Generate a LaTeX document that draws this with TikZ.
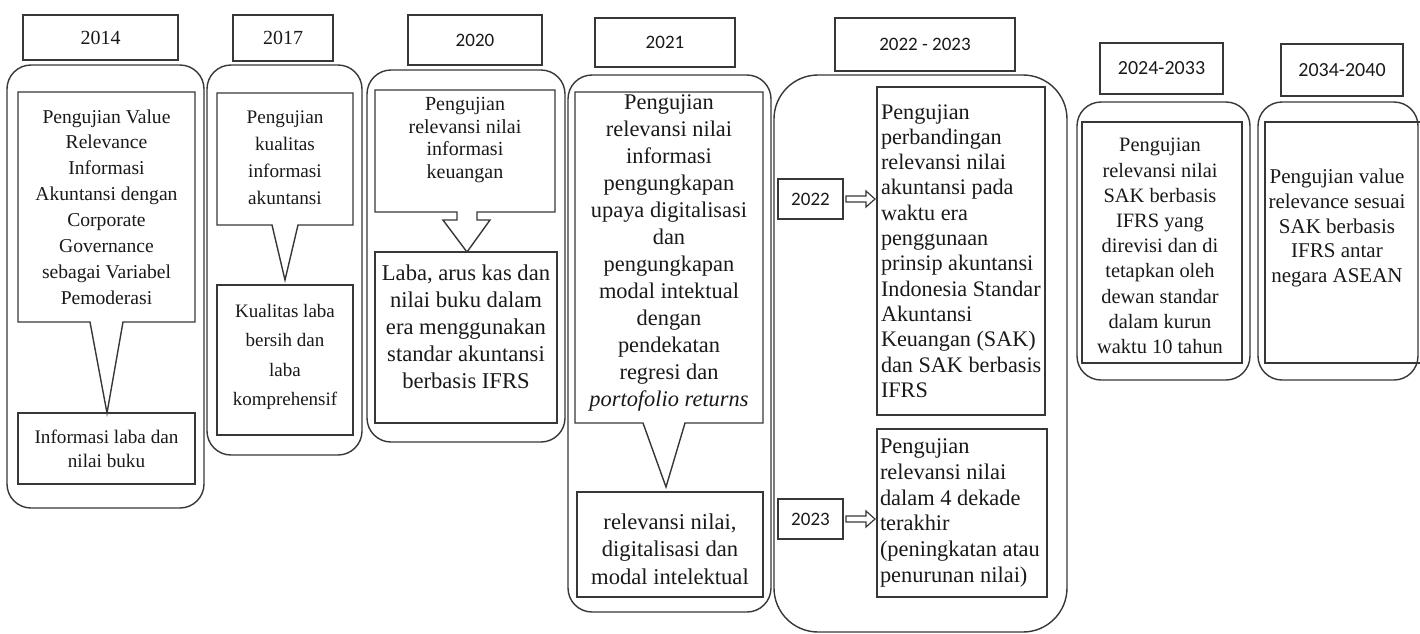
\documentclass[tikz,border=0pt]{standalone}
\usepackage{fontspec}
\setmainfont{Liberation Serif}
\newfontfamily\yfont{Carlito}
\usetikzlibrary{calc}
\definecolor{ln}{RGB}{55,55,55}
\definecolor{tx}{RGB}{25,25,25}
\newcommand\rbox[7]{\node[#1, minimum width={(#4-#2)*0.5pt}, minimum height={(#5-#3)*0.5pt}] (#6) at ({(#2+#4)/2},{(#3+#5)/2}) {#7};}
\newcommand\fs[2]{\fontsize{#1}{#2}\selectfont}
\begin{document}
\begin{tikzpicture}[x=0.5pt,y=-0.5pt,
  every node/.style={inner sep=0pt, outer sep=0pt, text=tx},
  shp/.style={draw=ln, line width=0.7pt, line join=miter},
  cont/.style={draw=ln, line width=0.7pt, rounded corners=12pt},
  bigcont/.style={draw=ln, line width=0.7pt, rounded corners=22pt},
  pbox/.style={draw=ln, line width=0.7pt, rectangle, align=center},
  ybox/.style={pbox, font=\yfont\fs{9.5}{11}},
  sbox/.style={pbox, font=\fs{10}{12}},
  txt/.style={align=center},
  barrow/.style={draw=ln, line width=0.6pt, line join=miter}]
\useasboundingbox (0,0) rectangle (1420,633);
\clip (0,0) rectangle (1420,633);

% ---------- 2014 ----------
\draw[cont] (7,65) rectangle (204,508);
\rbox{sbox}{23}{15}{178}{60}{y14}{2014}
\draw[shp] (18,92) -- (195,92) -- (195,322) -- (123,322) -- (107,413) -- (90,322) -- (18,322) -- cycle;
\node[txt, font=\fs{9.8}{12.95}] (c14) at (106.5,207) {Pengujian Value\\Relevance\\Informasi\\Akuntansi dengan\\Corporate\\Governance\\sebagai Variabel\\Pemoderasi};
\rbox{pbox, font=\fs{9.6}{12}}{18}{413}{195}{484}{b14}{Informasi laba dan\\nilai buku}

% ---------- 2017 ----------
\draw[cont] (207,65) rectangle (362,455);
\rbox{sbox}{233}{15}{333}{61}{y17}{2017}
\draw[shp] (217,93) -- (353,93) -- (353,225) -- (298,225) -- (285,280) -- (272,225) -- (217,225) -- cycle;
\node[txt, font=\fs{9.6}{13.5}] (c17) at (285,158) {Pengujian\\kualitas\\informasi\\akuntansi};
\rbox{pbox}{217}{285}{353}{435}{b17}{}
\node[txt, font=\fs{9.5}{14.8}] (t17) at (285,357) {Kualitas laba\\bersih dan\\laba\\komprehensif};

% ---------- 2020 ----------
\draw[cont] (367,70) rectangle (565,442);
\rbox{ybox}{408}{15}{542}{65}{y20}{2020}
\draw[shp] (375,90) -- (555,90) -- (555,212) -- (477,212) -- (477,220) -- (490,220) -- (467,252) -- (443,220) -- (457,220) -- (457,212) -- (375,212) -- cycle;
\node[txt, font=\fs{10}{11.4}] (c20) at (465,140) {Pengujian\\relevansi nilai\\informasi\\keuangan};
\rbox{pbox}{375}{252}{557}{423}{b20}{}
\node[txt, font=\fs{11.3}{13.5}] (t20) at (466,327) {Laba, arus kas dan\\nilai buku dalam\\era menggunakan\\standar akuntansi\\berbasis IFRS};

% ---------- 2021 ----------
\draw[cont] (568,75) rectangle (771,612);
\rbox{ybox}{595}{18}{735}{67}{y21}{2021}
\draw[shp] (575,92) -- (763,92) -- (763,423) -- (685,423) -- (666,487) -- (643,423) -- (575,423) -- cycle;
\node[txt, font=\fs{11.2}{13.5}] (c21) at (669,253) {Pengujian\\relevansi nilai\\informasi\\pengungkapan\\upaya digitalisasi\\dan\\pengungkapan\\modal intektual\\dengan\\pendekatan\\regresi dan\\\textit{portofolio returns}};
\rbox{pbox}{577}{492}{763}{597}{b21}{}
\node[txt, font=\fs{11.3}{13.75}] (t21) at (670,549) {relevansi nilai,\\digitalisasi dan\\modal intelektual};

% ---------- 2022 - 2023 ----------
\draw[bigcont] (774,75) rectangle (1067,632);
\rbox{ybox}{835}{18}{1015}{71}{y2223}{2022 - 2023}
\rbox{ybox}{778}{179}{843}{219}{y22}{2022}
\rbox{ybox}{778}{499}{843}{539}{y23}{2023}
\rbox{pbox}{877}{87}{1045}{415}{b22}{}
\rbox{pbox}{877}{429}{1047}{597}{b23}{}
\node[align=left, anchor=west, font=\fs{11.1}{12.65}] (t22) at (881,251) {Pengujian\\perbandingan\\relevansi nilai\\akuntansi pada\\waktu era\\penggunaan\\prinsip akuntansi\\Indonesia Standar\\Akuntansi\\Keuangan (SAK)\\dan SAK berbasis\\IFRS};
\node[align=left, anchor=west, font=\fs{11.2}{12.9}] (t23) at (880,513) {Pengujian\\relevansi nilai\\dalam 4 dekade\\terakhir\\(peningkatan atau\\penurunan nilai)};
\foreach \s/\d in {y22/b22, y23/b23}{
  \draw[barrow] ($(\s.east)+(3,-3)$) -- ($(\d.west |- \s.east)+(-11,-3)$) -- ($(\d.west |- \s.east)+(-11,-8)$) -- ($(\d.west |- \s.east)+(-2,0)$) -- ($(\d.west |- \s.east)+(-11,8)$) -- ($(\d.west |- \s.east)+(-11,3)$) -- ($(\s.east)+(3,3)$) -- cycle;
}

% ---------- 2024-2033 ----------
\draw[cont] (1077,102) rectangle (1250,380);
\rbox{ybox, font=\yfont\fs{10}{12}}{1100}{43}{1223}{94}{y24}{2024-2033}
\rbox{pbox}{1082}{122}{1242}{363}{b24}{}
\node[txt, font=\fs{10.2}{12.6}] (t24) at (1160,246) {Pengujian\\relevansi nilai\\SAK berbasis\\IFRS yang\\direvisi dan di\\tetapkan oleh\\dewan standar\\dalam kurun\\waktu 10 tahun};

% ---------- 2034-2040 ----------
\draw[cont] (1258,102) rectangle (1418,380);
\rbox{ybox, font=\yfont\fs{10}{12}}{1281}{44}{1403}{96}{y34}{2034-2040}
\rbox{pbox}{1265}{122}{1426}{363}{b34}{}
\node[txt, font=\fs{10.5}{12.4}] (t34) at (1337,228) {Pengujian value\\relevance sesuai\\SAK berbasis\\IFRS antar\\negara ASEAN};
\end{tikzpicture}
\end{document}
